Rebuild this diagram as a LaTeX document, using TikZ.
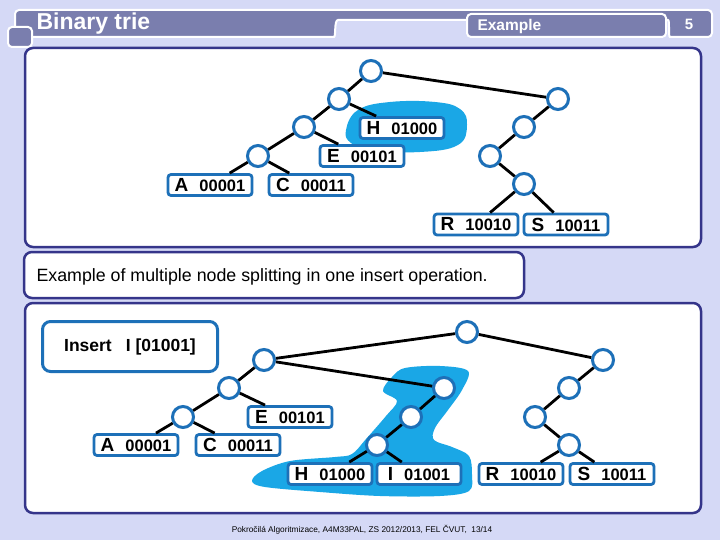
\documentclass[tikz,border=0pt]{standalone}
\usepackage{fontspec}
\setmainfont{Liberation Sans}
\usetikzlibrary{calc}

\definecolor{pagebg}{HTML}{D5D9F6}
\definecolor{hdrdark}{HTML}{7A7EAE}
\definecolor{panelnavy}{HTML}{35358A}
\definecolor{trieblue}{HTML}{1D70B8}
\definecolor{blobblue}{HTML}{1AA7E6}

\newcommand{\leafkey}[2]{{\fontsize{19}{19}\selectfont #1}\hspace{11pt}{\fontsize{16.5}{16.5}\selectfont #2}}

\tikzset{
  knot/.style={circle,draw=trieblue,fill=white,line width=3pt,minimum size=21pt,inner sep=0pt},
  leaf/.style={draw=trieblue,fill=white,line width=2.8pt,rounded corners=3pt,
    minimum width=84pt,minimum height=21pt,inner sep=0pt,font=\bfseries},
  link/.style={line width=2.8pt,black},
  panel/.style={draw=panelnavy,fill=white,line width=2.5pt,rounded corners=8pt},
  hdr/.style={fill=hdrdark,draw=white,line width=2pt,rounded corners=4pt},
  blob/.style={fill=blobblue}
}

\begin{document}
\begin{tikzpicture}[x=1pt,y=-1pt]
  \useasboundingbox (0,0) rectangle (720,540);
  \fill[pagebg] (0,0) rectangle (720,540);

  % header
  \draw[hdr] (15,37) -- (15,10) -- (712,10) -- (712,37) -- (674,37)
    .. controls (668,37) and (670,20) .. (664,20) -- (342,20)
    .. controls (334,20) and (336,37) .. (330,37) -- cycle;
  \draw[hdr] (467,14) rectangle (666,37);
  \draw[hdr] (8,27) rectangle (32,47);
  \node[anchor=base west,text=white,font=\bfseries\fontsize{23}{23}\selectfont] (title) at (33,30) {Binary trie};
  \node[anchor=base west,text=white,font=\bfseries\fontsize{15.5}{15.5}\selectfont] (tab) at (474,31) {Example};
  \node[anchor=base,text=white,font=\bfseries\fontsize{15}{15}\selectfont] (page) at (689,30) {5};

  % panels
  \draw[panel] (25,48) rectangle (701,247);
  \draw[panel] (24,252) rectangle (524,298);
  \draw[panel] (25,303) rectangle (701,513);

  % top trie
  \fill[blob] plot[smooth cycle,tension=0.7] coordinates {(346,130) (358,110) (390,102)
    (435,102) (460,109) (467,125) (458,145) (420,152) (372,150) (351,143)};

  \node[knot] (t) at (371,71) {};
  \node[knot] (t0) at (339,99) {};
  \node[knot] (t00) at (304,127) {};
  \node[knot] (t000) at (258,156) {};
  \node[knot] (t1) at (558,99) {};
  \node[knot] (t10) at (524,127) {};
  \node[knot] (t100) at (490,156) {};
  \node[knot] (t1001) at (524,184) {};

  \node[leaf] (tA) at (210,185) {\leafkey{A}{00001}};
  \node[leaf] (tC) at (311,185) {\leafkey{C}{00011}};
  \node[leaf] (tE) at (362,156) {\leafkey{E}{00101}};
  \node[leaf] (tH) at (402,128) {\leafkey{H}{01000}};
  \node[leaf] (tR) at (476,224.5) {\leafkey{R}{10010}};
  \node[leaf] (tS) at (566,224.5) {\leafkey{S}{10011}};

  \draw[link] (t) -- (t0);
  \draw[link] (t) -- (t1);
  \draw[link] (t0) -- (t00);
  \draw[link] (t0) -- (tH);
  \draw[link] (t00) -- (t000);
  \draw[link] (t00) -- (tE);
  \draw[link] (t000) -- (tA);
  \draw[link] (t000) -- (tC);
  \draw[link] (t1) -- (t10);
  \draw[link] (t10) -- (t100);
  \draw[link] (t100) -- (t1001);
  \draw[link] (t1001) -- (tR);
  \draw[link] (t1001) -- (tS);

  % caption
  \node[anchor=west,font=\fontsize{17.8}{17.8}\selectfont] (cap) at (33,277)
    {Example of multiple node splitting in one insert operation.};

  % bottom trie
  \node[draw=trieblue,fill=white,line width=3pt,rounded corners=8pt,minimum width=175pt,
    minimum height=50pt,font=\bfseries\fontsize{17.5}{17.5}\selectfont] (ins) at (130,346.5)
    {Insert\hspace{14pt}I [01001]};

  \fill[blob] plot[smooth cycle,tension=0.55] coordinates {(405,368) (440,366) (468,371)
    (462,390) (448,410) (435,428) (434,440) (452,447) (469,456) (472,475) (469,491)
    (440,496) (380,496) (320,492) (265,487) (252,481) (262,471) (290,461) (335,457)
    (352,454) (366,439) (386,416) (397,401) (383,391) (392,377)};

  \node[knot] (b) at (467,332) {};
  \node[knot] (b0) at (264,360) {};
  \node[knot] (b00) at (229,388) {};
  \node[knot] (b000) at (183,417) {};
  \node[knot] (b01) at (444,388) {};
  \node[knot] (b010) at (411,417) {};
  \node[knot] (b0100) at (377,445) {};
  \node[knot] (b1) at (603,360) {};
  \node[knot] (b10) at (569,388) {};
  \node[knot] (b100) at (535,417) {};
  \node[knot] (b1001) at (569,445) {};

  \node[leaf] (bE) at (290,417) {\leafkey{E}{00101}};
  \node[leaf] (bA) at (136,445) {\leafkey{A}{00001}};
  \node[leaf] (bC) at (238,445) {\leafkey{C}{00011}};
  \node[leaf] (bH) at (330,474) {\leafkey{H}{01000}};
  \node[leaf] (bI) at (419,474) {\leafkey{I}{01001}};
  \node[leaf] (bR) at (521,474) {\leafkey{R}{10010}};
  \node[leaf] (bS) at (612,474) {\leafkey{S}{10011}};

  \draw[link] (b) -- (b0);
  \draw[link] (b) -- (b1);
  \draw[link] (b0) -- (b00);
  \draw[link] (b0) -- (b01);
  \draw[link] (b00) -- (b000);
  \draw[link] (b00) -- (bE);
  \draw[link] (b000) -- (bA);
  \draw[link] (b000) -- (bC);
  \draw[link] (b01) -- (b010);
  \draw[link] (b010) -- (b0100);
  \draw[link] (b0100) -- (bH);
  \draw[link] (b0100) -- (bI);
  \draw[link] (b1) -- (b10);
  \draw[link] (b10) -- (b100);
  \draw[link] (b100) -- (b1001);
  \draw[link] (b1001) -- (bR);
  \draw[link] (b1001) -- (bS);

  % footer
  \node[font=\fontsize{8.3}{8.3}\selectfont] (foot) at (362,530)
    {Pokročilá Algoritmizace, A4M33PAL, ZS 2012/2013, FEL ČVUT,\ \ 13/14};
\end{tikzpicture}
\end{document}
